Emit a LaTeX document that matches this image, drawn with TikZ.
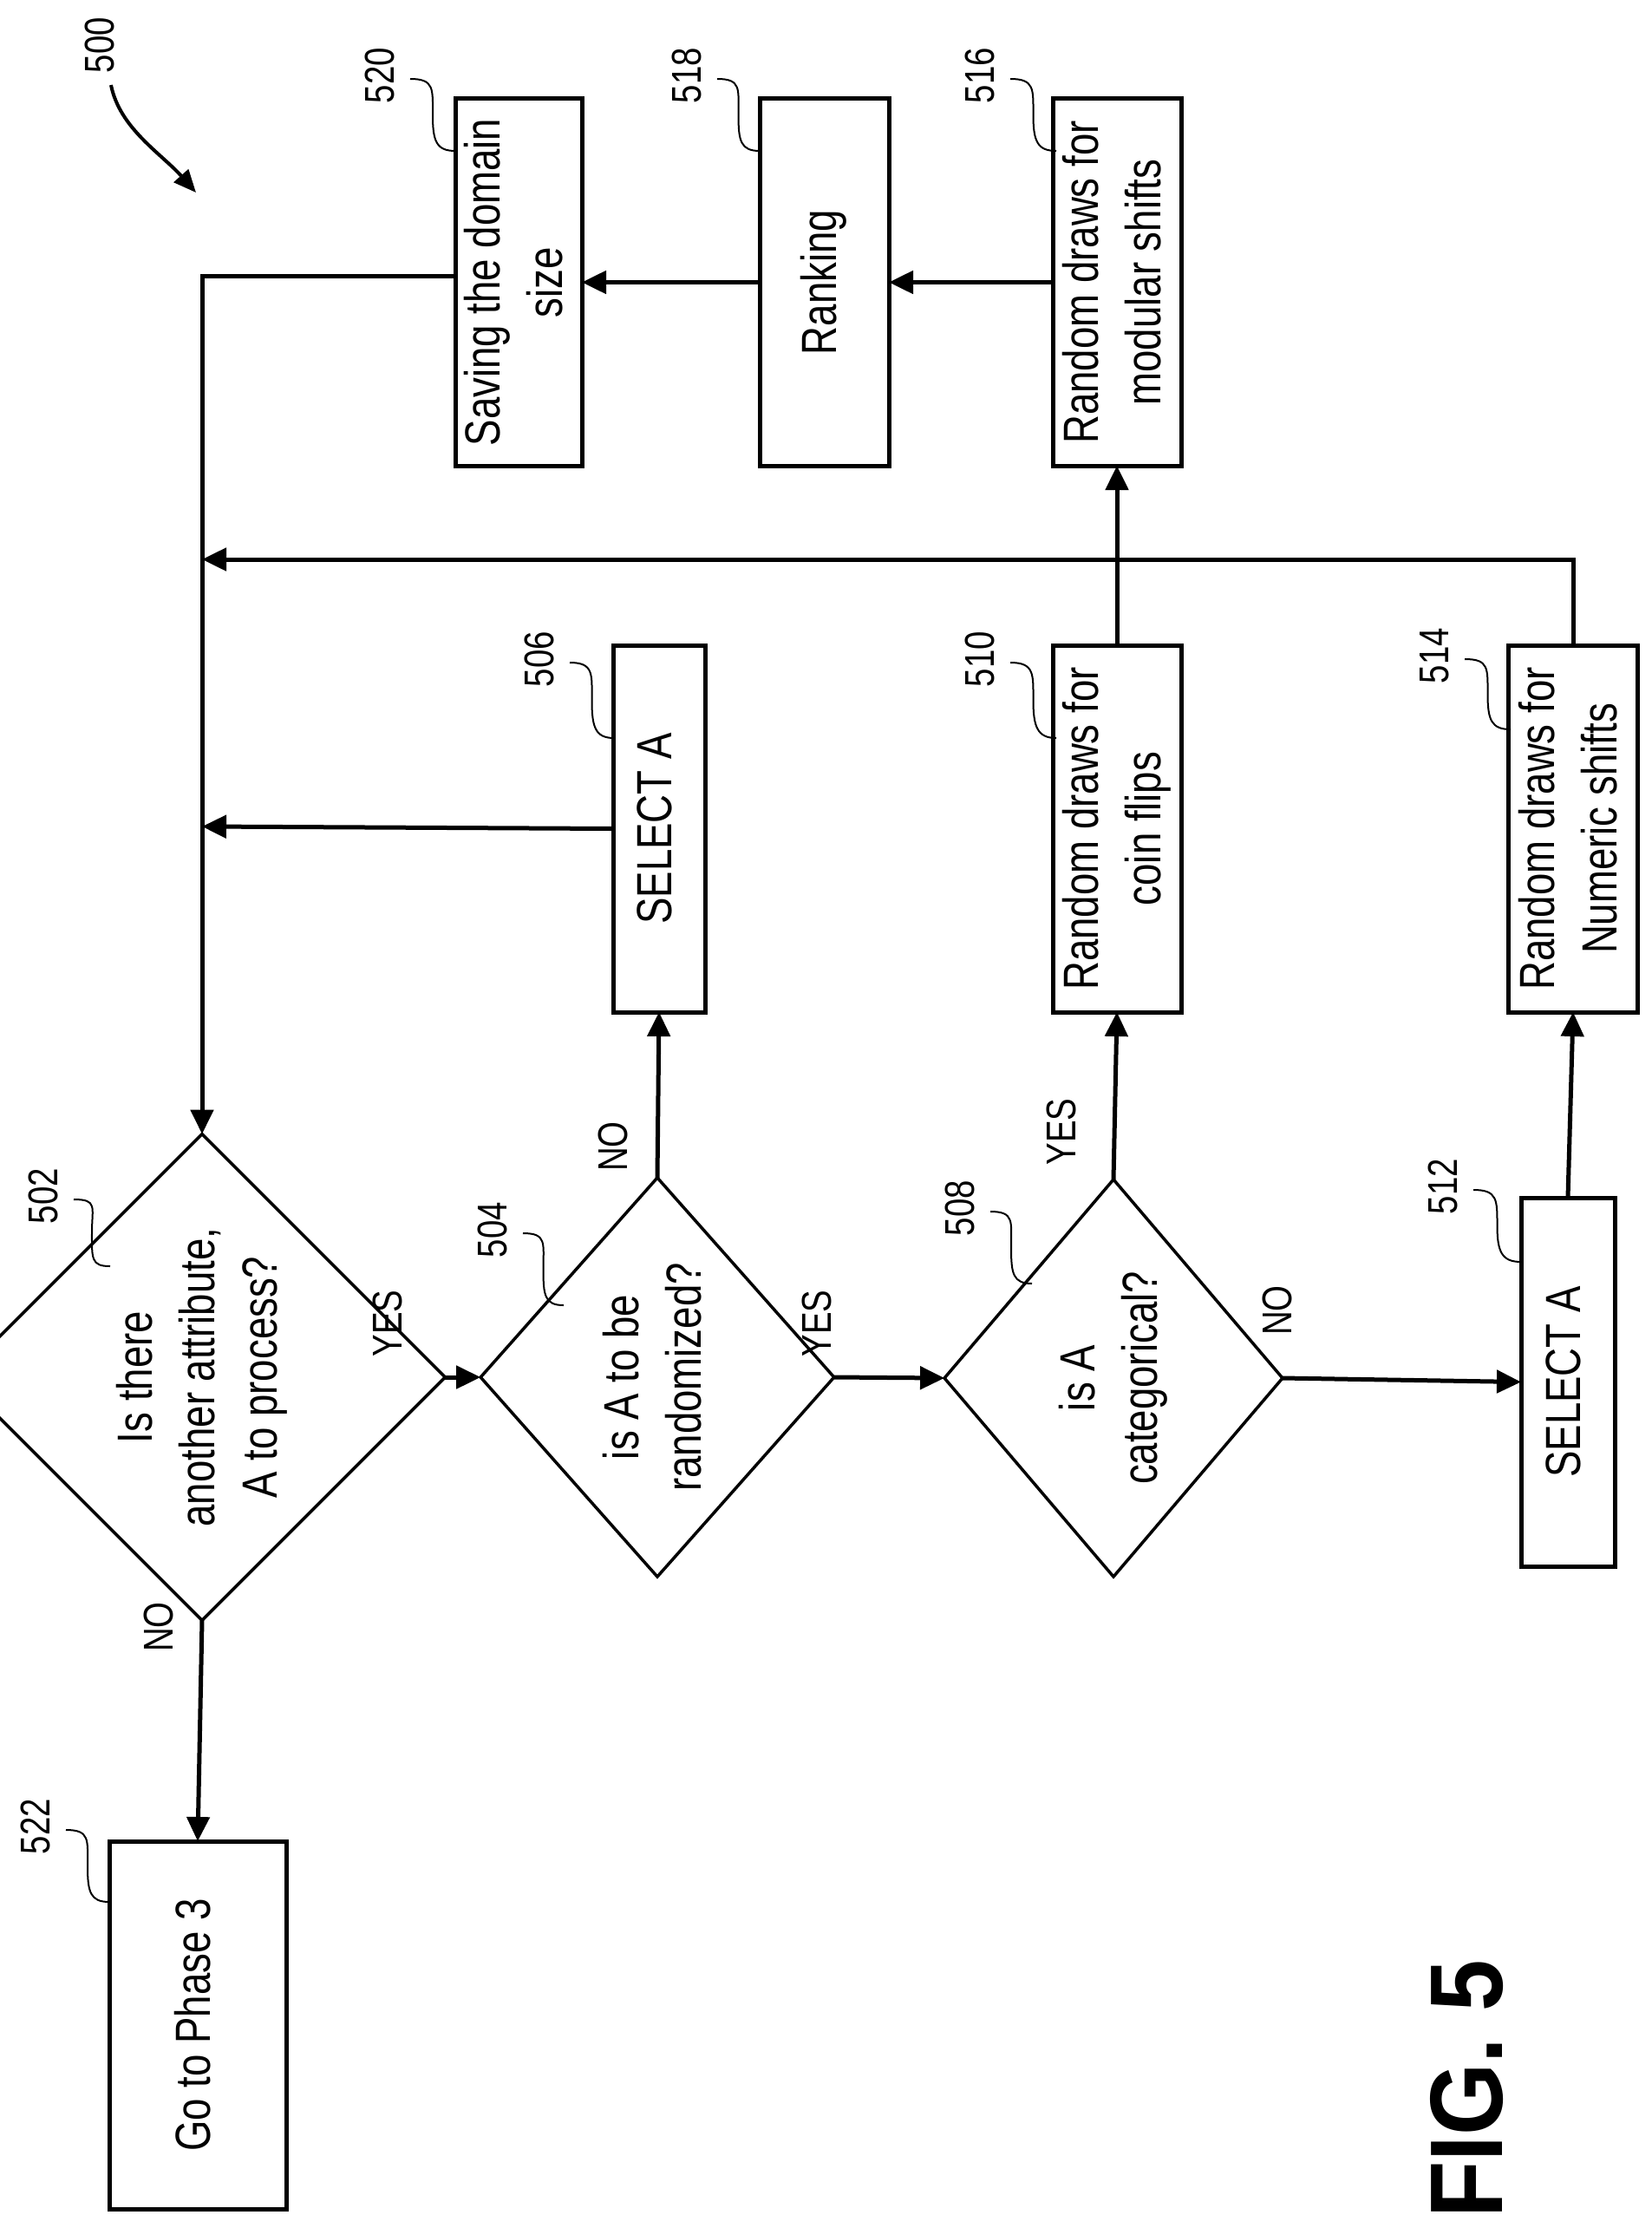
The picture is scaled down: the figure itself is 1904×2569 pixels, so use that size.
\documentclass[tikz,border=0pt]{standalone}
\usepackage{fontspec}
\setmainfont{Liberation Sans}
\usetikzlibrary{arrows.meta,shapes.geometric,calc}
\newcommand{\rt}[2][0.8]{\rotatebox{90}{\scalebox{#1}[1]{\begin{tabular}{@{}c@{}}#2\end{tabular}}}}
\begin{document}
\begin{tikzpicture}[x=1pt,y=-1pt,
  every node/.style={inner sep=0pt,outer sep=0pt},
  box/.style={draw,line width=5pt,rectangle,font=\fontsize{57}{72}\selectfont},
  dia/.style={draw,line width=3.5pt,diamond,font=\fontsize{57}{72}\selectfont},
  num/.style={font=\fontsize{48}{56}\selectfont},
  ar/.style={line width=5pt,-{Triangle[length=28pt,width=26pt]}},
  ln/.style={line width=5pt},
  lead/.style={line width=2pt}]
\useasboundingbox (0,0) rectangle (1904,2569);
% boxes
\node[box,minimum width=146pt,minimum height=423pt] (b520) at (598,325.5) {\rt{Saving the domain\\size}};
\node[box,minimum width=149pt,minimum height=423pt] (b518) at (950.5,325.5) {\rt{Ranking}};
\node[box,minimum width=148pt,minimum height=423pt] (b516) at (1288,325.5) {\rt{Random draws for\\modular shifts}};
\node[box,minimum width=106pt,minimum height=423pt] (b506) at (760,955.5) {\rt{SELECT A}};
\node[box,minimum width=148pt,minimum height=423pt] (b510) at (1288,955.5) {\rt{Random draws for\\coin flips}};
\node[box,minimum width=149pt,minimum height=423pt] (b514) at (1814,955.5) {\rt{Random draws for\\Numeric shifts}};
\node[box,minimum width=108pt,minimum height=425pt] (b512) at (1808,1593.5) {\rt{SELECT A}};
\node[box,minimum width=204pt,minimum height=424pt] (b522) at (228,2335) {\rt{Go to Phase 3}};
% diamonds
\node[dia,minimum width=406pt,minimum height=518pt] (d502) at (233,1588) {\rt{Is there\\another attribute,\\A to process?}};
\node[dia,minimum width=318pt,minimum height=460pt] (d504) at (758,1588) {\rt{is A to be\\randomized?}};
\node[dia,minimum width=320pt,minimum height=458pt] (d508) at (1284,1589) {\rt{is A\\categorical?}};
% junctions
\coordinate (c1) at (233,318);
\coordinate (j1) at (233,953);
\coordinate (j2) at (233,645);
\coordinate (k2) at (1814,645);
% connectors
\draw[ar] (b516.west) -- (b518.east);
\draw[ar] (b518.west) -- (b520.east);
\draw[ar] (b520.west |- c1) -- (c1) -- (d502.north);
\draw[ar] (b506.west) -- (j1);
\draw[ar] (b514.north) -- (k2) -- (j2);
\draw[ar] (b510.north) -- (b516.south);
\draw[ar] (d502.east) -- (d504.west);
\draw[ar] (d504.east) -- (d508.west);
\draw[ar] (d508.east) -- (b512.west);
\draw[ar] (d504.north) -- (b506.south);
\draw[ar] (d508.north) -- (b510.south);
\draw[ar] (b512.north) -- (b514.south);
\draw[ar] (d502.south) -- (b522.north);
% YES/NO
\node[num] (y1) at (452,1526) {\rt{YES}};
\node[num] (y2) at (947,1526) {\rt{YES}};
\node[num] (n3) at (1478,1511) {\rt{NO}};
\node[num] (n4) at (712,1322) {\rt{NO}};
\node[num] (y5) at (1229,1305) {\rt{YES}};
\node[num] (n6) at (188,1876) {\rt{NO}};
% reference numerals with leaders
\foreach \n/\cx/\cy/\ex/\ey in {520/443/87/525/174, 518/797/87/876/174, 516/1135/87/1218/174,
  506/627/760/708/851, 510/1135/760/1218/851, 514/1659/756/1742/841,
  502/55/1379/127/1460, 504/573/1418/650/1505, 508/1112/1393/1190/1480,
  512/1669/1368/1754/1455, 522/46/2106/126/2193}{
  \node[num] (l\n) at (\cx,\cy) {\rt{\n}};
  \coordinate (s\n) at ($(l\n.east)+(2,4)$);
  \coordinate (e\n) at (\ex,\ey);
  \coordinate (m\n) at ($(s\n)!0.5!(e\n)$);
  \draw[lead] (s\n) .. controls +(28,0) and +(0,-30) .. (m\n) .. controls +(0,30) and +(-22,0) .. (e\n);
}
\node[num] (l500) at (120,52) {\rt{500}};
\coordinate (a500) at (226,222);
\draw[line width=4pt,-{Triangle[length=26pt,width=22pt]}] (l500.south) ++(8,14) .. controls +(10,50) and +(-40,-45) .. (a500);
\node[font=\bfseries\fontsize{119}{130}\selectfont] (fig) at (1706,2409) {\rt[0.9]{FIG. 5}};
\end{tikzpicture}
\end{document}
